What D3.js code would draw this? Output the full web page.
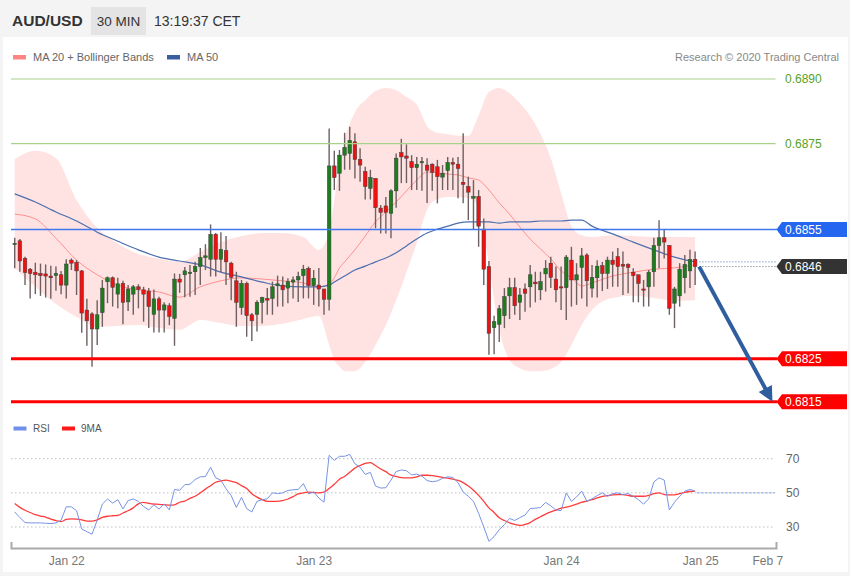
<!DOCTYPE html>
<html><head><meta charset="utf-8">
<script src="https://cdn.jsdelivr.net/npm/d3@7"></script>
<style>
html,body{margin:0;padding:0;background:#fff;}
svg{display:block;font-family:"Liberation Sans",Arial,sans-serif;}
</style></head><body>
<svg id="c" width="850" height="576"></svg>
<script>
// ---------- DATA ----------
const symbol = "AUD/USD", period = "30 MIN", clock = "13:19:37 CET";
const opens=[0.68516,0.68524,0.68483,0.68458,0.68451,0.68448,0.68447,0.68442,0.68443,0.68445,
0.68421,0.68479,0.68474,0.68454,0.68363,0.68354,0.68319,0.68357,0.68429,0.68438,
0.68400,0.68425,0.68382,0.68400,0.68417,0.68410,0.68407,0.68353,0.68389,0.68363,
0.68373,0.68344,0.68435,0.68445,0.68448,0.68452,0.68464,0.68485,0.68481,0.68539,
0.68481,0.68501,0.68472,0.68431,0.68369,0.68425,0.68352,0.68353,0.68381,0.68390,
0.68390,0.68420,0.68421,0.68414,0.68428,0.68433,0.68443,0.68460,0.68420,0.68421,
0.68412,0.68388,0.68698,0.68681,0.68723,0.68727,0.68754,0.68713,0.68685,0.68646,
0.68669,0.68600,0.68605,0.68588,0.68640,0.68729,0.68721,0.68708,0.68694,0.68707,
0.68700,0.68702,0.68696,0.68672,0.68687,0.68706,0.68702,0.68660,0.68650,0.68623,
0.68627,0.68551,0.68464,0.68322,0.68330,0.68350,0.68396,0.68415,0.68381,0.68412,
0.68417,0.68428,0.68410,0.68447,0.68472,0.68435,0.68417,0.68415,0.68479,0.68433,
0.68462,0.68491,0.68414,0.68438,0.68466,0.68448,0.68479,0.68487,0.68469,0.68469,
0.68451,0.68445,0.68412,0.68417,0.68452,0.68513,0.68531,0.68513,0.68379,0.68396,
0.68438,0.68454,0.68481];
const highs=[0.68531,0.68528,0.68487,0.68461,0.68473,0.68471,0.68469,0.68466,0.68464,0.68454,
0.68481,0.68483,0.68479,0.68456,0.68389,0.68358,0.68386,0.68433,0.68441,0.68441,
0.68438,0.68431,0.68421,0.68421,0.68423,0.68417,0.68414,0.68411,0.68394,0.68381,
0.68379,0.68448,0.68447,0.68463,0.68468,0.68475,0.68507,0.68516,0.68562,0.68542,
0.68544,0.68535,0.68475,0.68452,0.68433,0.68429,0.68356,0.68386,0.68394,0.68414,
0.68429,0.68443,0.68441,0.68437,0.68441,0.68452,0.68468,0.68464,0.68456,0.68461,
0.68412,0.68785,0.68733,0.68735,0.68775,0.68789,0.68774,0.68739,0.68696,0.68689,
0.68669,0.68607,0.68626,0.68644,0.68727,0.68761,0.68748,0.68723,0.68719,0.68719,
0.68716,0.68704,0.68712,0.68700,0.68719,0.68717,0.68719,0.68774,0.68673,0.68665,
0.68642,0.68576,0.68477,0.68350,0.68375,0.68414,0.68438,0.68438,0.68414,0.68425,
0.68468,0.68452,0.68452,0.68479,0.68487,0.68464,0.68464,0.68491,0.68510,0.68472,
0.68507,0.68495,0.68468,0.68479,0.68475,0.68487,0.68499,0.68507,0.68499,0.68472,
0.68460,0.68445,0.68433,0.68456,0.68531,0.68572,0.68551,0.68514,0.68417,0.68472,
0.68491,0.68503,0.68499];
const lows=[0.68460,0.68452,0.68421,0.68390,0.68400,0.68396,0.68392,0.68389,0.68408,0.68400,
0.68390,0.68456,0.68398,0.68310,0.68280,0.68231,0.68282,0.68324,0.68379,0.68371,
0.68367,0.68330,0.68361,0.68352,0.68367,0.68336,0.68321,0.68311,0.68311,0.68311,
0.68328,0.68280,0.68403,0.68393,0.68394,0.68398,0.68421,0.68456,0.68441,0.68441,
0.68451,0.68421,0.68386,0.68324,0.68352,0.68301,0.68291,0.68313,0.68332,0.68352,
0.68352,0.68371,0.68371,0.68379,0.68390,0.68382,0.68390,0.68390,0.68375,0.68371,
0.68352,0.68362,0.68642,0.68640,0.68689,0.68689,0.68669,0.68661,0.68620,0.68620,
0.68553,0.68541,0.68541,0.68530,0.68601,0.68658,0.68658,0.68642,0.68642,0.68640,
0.68612,0.68640,0.68611,0.68642,0.68642,0.68642,0.68623,0.68611,0.68572,0.68551,
0.68510,0.68421,0.68259,0.68260,0.68289,0.68321,0.68342,0.68352,0.68340,0.68359,
0.68369,0.68381,0.68386,0.68406,0.68414,0.68381,0.68363,0.68340,0.68371,0.68375,
0.68390,0.68371,0.68392,0.68392,0.68407,0.68412,0.68417,0.68417,0.68398,0.68402,
0.68381,0.68381,0.68371,0.68371,0.68417,0.68460,0.68483,0.68352,0.68321,0.68371,
0.68402,0.68414,0.68421];
const closes=[0.68518,0.68477,0.68450,0.68448,0.68445,0.68443,0.68442,0.68438,0.68448,0.68421,
0.68470,0.68472,0.68454,0.68356,0.68338,0.68319,0.68352,0.68414,0.68438,0.68416,
0.68424,0.68381,0.68412,0.68417,0.68411,0.68400,0.68371,0.68389,0.68363,0.68375,
0.68348,0.68435,0.68428,0.68454,0.68451,0.68464,0.68485,0.68489,0.68539,0.68481,
0.68504,0.68475,0.68439,0.68381,0.68425,0.68350,0.68338,0.68381,0.68392,0.68386,
0.68417,0.68424,0.68410,0.68429,0.68433,0.68441,0.68458,0.68420,0.68437,0.68412,
0.68388,0.68698,0.68671,0.68723,0.68741,0.68757,0.68713,0.68700,0.68650,0.68671,
0.68601,0.68590,0.68590,0.68640,0.68716,0.68719,0.68716,0.68694,0.68702,0.68708,
0.68688,0.68683,0.68673,0.68681,0.68706,0.68702,0.68692,0.68655,0.68637,0.68627,
0.68558,0.68458,0.68309,0.68336,0.68366,0.68394,0.68415,0.68373,0.68398,0.68402,
0.68445,0.68424,0.68429,0.68460,0.68439,0.68410,0.68416,0.68486,0.68433,0.68445,
0.68489,0.68431,0.68439,0.68465,0.68448,0.68479,0.68469,0.68464,0.68465,0.68462,
0.68443,0.68425,0.68410,0.68451,0.68513,0.68531,0.68521,0.68367,0.68412,0.68458,
0.68469,0.68481,0.68464];

// indicator readings at sampled bar indices
const sampleIdx=[0,4,8,12,16,20,24,28,32,36,40,44,48,52,56,59,61,62,63,64,66,68,70,72,74,76,78,80,82,84,86,88,90,92,94,96,98,100,102,104,106,108,110,112,116,120,124,128,132];
const bbUpper=[0.68714,0.68733,0.68716,0.68619,0.68554,0.68517,0.68493,0.68482,0.68475,0.68498,0.68521,0.68535,0.68542,0.68542,0.68533,0.68503,0.68544,0.68619,0.68700,0.68758,0.68823,0.68851,0.68872,0.68879,0.68874,0.68858,0.68840,0.68791,0.68775,0.68772,0.68768,0.68768,0.68816,0.68870,0.68879,0.68867,0.68844,0.68814,0.68772,0.68716,0.68635,0.68558,0.68537,0.68533,0.68537,0.68535,0.68533,0.68533,0.68533];
const bbLower=[0.68461,0.68417,0.68377,0.68347,0.68324,0.68326,0.68328,0.68321,0.68317,0.68340,0.68333,0.68326,0.68326,0.68331,0.68342,0.68349,0.68282,0.68247,0.68231,0.68221,0.68221,0.68242,0.68282,0.68328,0.68386,0.68451,0.68519,0.68596,0.68621,0.68626,0.68626,0.68623,0.68605,0.68468,0.68317,0.68247,0.68228,0.68221,0.68221,0.68226,0.68242,0.68282,0.68328,0.68363,0.68391,0.68396,0.68391,0.68384,0.68386];
const ma20=[0.68586,0.68575,0.68530,0.68479,0.68445,0.68421,0.68410,0.68405,0.68393,0.68417,0.68431,0.68438,0.68435,0.68431,0.68426,0.68417,0.68424,0.68438,0.68461,0.68475,0.68503,0.68535,0.68568,0.68591,0.68614,0.68640,0.68665,0.68684,0.68682,0.68679,0.68677,0.68670,0.68665,0.68642,0.68612,0.68586,0.68556,0.68528,0.68505,0.68482,0.68454,0.68438,0.68419,0.68426,0.68442,0.68451,0.68458,0.68461,0.68468];
const ma50=[0.68633,0.68614,0.68591,0.68570,0.68544,0.68523,0.68503,0.68486,0.68477,0.68468,0.68451,0.68440,0.68428,0.68419,0.68417,0.68417,0.68421,0.68428,0.68435,0.68442,0.68456,0.68465,0.68475,0.68484,0.68496,0.68512,0.68528,0.68542,0.68551,0.68558,0.68565,0.68568,0.68568,0.68568,0.68565,0.68568,0.68568,0.68568,0.68570,0.68570,0.68570,0.68572,0.68572,0.68558,0.68540,0.68521,0.68503,0.68486,0.68475];

const rsi=[38.8,35.5,32.6,32.4,32.4,32.4,32.2,32,32.4,34,
41.8,41.8,39.5,28.8,27.3,25.8,34,43.4,46.4,44,
46,40.6,45.5,46.4,45,42,40,43,40.5,43.5,
40,52,51.5,54.8,55,57.8,59.4,59.5,65,58.8,
57.4,52.4,48.4,41.4,47.4,40.8,38.8,45,46,46.5,
50,49.6,50,51.4,51.8,52,55.4,49.4,50.5,47,
44.5,72,69,71.4,71.4,72.5,67,65,60.8,62,
54,52.8,53,57.5,62.5,63.4,63,60.5,61,59.8,
57.2,56.5,57,58.5,59.4,59,56,50.5,48,45,
38,30,21.6,24.4,28.4,31.4,35,33.8,35.5,37,
40.8,41,41.4,44.4,42.4,40,39.6,50,45,47.6,
51,45,46.5,48.4,50,48,49.5,50,49,49.6,
48,46,43.4,46.5,56.4,58.8,57.5,40,44.5,48,
51,52,51];
const rsiMA=[43.8,41.5,39.8,38.5,37.2,36.4,35.8,34.6,33.8,33.2,
34.4,34.8,34.6,34.2,33.4,33.4,34.2,35.6,36.3,36.6,
36.8,38.2,39.5,41.2,43.5,44.4,43.8,43.4,43.3,43.1,
42.8,43,44.5,45.2,46.8,48,50,52.2,54.2,56.2,
57,57.4,56.8,56,54.2,52.5,49.5,47.5,46,45,
45,45,45.5,46.4,47.8,49.4,50,50.4,50.2,50,
50.5,52.5,55,58,59.6,62,64.5,66,67.2,67.7,
66,64,62.4,60.4,59.6,58.9,58.8,58.8,59.4,60.3,
60.3,60.1,59.6,59,58.6,58.1,57.3,56,54,51.5,
48.5,45,41.2,38.5,35.4,33.8,32.4,31.5,30.9,31.5,
32.6,34.5,36,37.5,38.8,39.9,41,41.6,42.4,43.4,
44.5,45.2,46,47,48,48.4,48.8,49,49,48.5,
48,48,48,48.5,49.5,50,49,48.8,48.8,49.6,
50.3,50.8,51];

const levelValues=[0.6890,0.6875,0.6855,0.6825,0.6815];
const levelKinds=["res","res","pivot","sup","sup"];
const arrowTargetIdx=147, arrowTarget=0.6815;
const tickIdx=[10,58,106,133,146];
const tickLabels=["Jan 22","Jan 23","Jan 24","Jan 25","Feb 7"];
const rsiTicks=[30,50,70];

// ---------- CHART ----------
const svg=d3.select("#c");
svg.append("rect").attr("width",850).attr("height",576).attr("fill","#f4f4f4");
svg.append("rect").attr("x",3).attr("y",37).attr("width",845).attr("height",535).attr("fill","#fff");

const x=d3.scaleLinear().domain([-0.72,147.69]).range([11,776]);
const y=d3.scaleLinear().domain([0.6815,0.6890]).range([401.7,79]);
const yR=d3.scaleLinear().domain([30,70]).range([527,458.7]);

// header
svg.append("text").attr("x",12).attr("y",26).attr("font-size",15.5).attr("font-weight","bold").attr("fill","#333").text(symbol);
svg.append("rect").attr("x",91).attr("y",7).attr("width",55).attr("height",28).attr("fill","#e4e4e4");
svg.append("text").attr("x",118.5).attr("y",26).attr("text-anchor","middle").attr("font-size",13.5).attr("fill","#333").text(period);
svg.append("text").attr("x",154).attr("y",26).attr("font-size",14).attr("fill","#333").text(clock);

// legend
svg.append("rect").attr("x",13).attr("y",55).attr("width",13).attr("height",4.5).attr("fill","#ff8585");
svg.append("text").attr("x",33).attr("y",61).attr("font-size",11).attr("fill","#666").text("MA 20 + Bollinger Bands");
svg.append("rect").attr("x",167).attr("y",55).attr("width",13).attr("height",4.5).attr("fill","#3a5f9f");
svg.append("text").attr("x",187).attr("y",61).attr("font-size",11).attr("fill","#666").text("MA 50");
svg.append("text").attr("x",839).attr("y",61).attr("text-anchor","end").attr("font-size",11).attr("fill","#888").text("Research \u00a9 2020 Trading Central");

// bands
const samples=sampleIdx.map((i,k)=>({i,up:bbUpper[k],lo:bbLower[k],m20:ma20[k],m50:ma50[k]}));
svg.append("path").datum(samples).attr("fill","#ffe3e3")
  .attr("d",d3.area().x(d=>x(d.i)).y0(d=>y(d.lo)).y1(d=>y(d.up)).curve(d3.curveMonotoneX));
svg.append("path").datum(samples).attr("fill","none").attr("stroke","#ff8f8f").attr("stroke-width",1)
  .attr("d",d3.line().x(d=>x(d.i)).y(d=>y(d.m20)).curve(d3.curveMonotoneX));
svg.append("path").datum(samples).attr("fill","none").attr("stroke","#4d6fae").attr("stroke-width",1.2)
  .attr("d",d3.line().x(d=>x(d.i)).y(d=>y(d.m50)).curve(d3.curveMonotoneX));

// candles
const bars=opens.map((o,i)=>({i,o,h:highs[i],l:lows[i],c:closes[i]}));
const cg=svg.append("g");
cg.selectAll("line").data(bars).join("line")
  .attr("x1",d=>x(d.i)).attr("x2",d=>x(d.i)).attr("y1",d=>y(d.h)).attr("y2",d=>y(d.l))
  .attr("stroke","#6e6060").attr("stroke-width",1.4);
cg.selectAll("rect").data(bars).join("rect")
  .attr("x",d=>x(d.i)-1.8).attr("width",3.6)
  .attr("y",d=>y(Math.max(d.o,d.c)))
  .attr("height",d=>Math.max(1.2,Math.abs(y(d.o)-y(d.c))))
  .attr("fill",d=>d.c>=d.o?"#1c7d1c":"#ee1111")
  .attr("stroke","#3d3d3d").attr("stroke-width",0.5);

// levels
const lastIdx=closes.length-1, lastClose=closes[lastIdx], lastMA50=ma50[ma50.length-1];
function tag(val,fill,txtCol){
  const cy=y(val);
  svg.append("path").attr("fill",fill)
    .attr("d",`M776.5,${cy}L782,${cy-7.5}H847V${cy+7.5}H782Z`);
  svg.append("text").attr("x",785).attr("y",cy).attr("dy","0.36em").attr("font-size",12).attr("fill",txtCol).text(val.toFixed(4));
}
levelValues.forEach((v,k)=>{
  const kind=levelKinds[k];
  const col=kind==="res"?"#a6d28c":kind==="pivot"?"#3f78ee":"#ff0000";
  svg.append("line").attr("x1",11).attr("x2",kind==="res"?775.5:777).attr("y1",y(v)).attr("y2",y(v))
    .attr("stroke",col).attr("stroke-width",kind==="sup"?3:(kind==="pivot"?1.5:1.2));
  if(kind==="res"){
    svg.append("text").attr("x",785).attr("y",y(v)).attr("dy","0.36em").attr("font-size",12).attr("fill","#58a323").text(v.toFixed(4));
  } else tag(v,kind==="pivot"?"#2466f0":"#ff0000","#fff");
});
// last price guides
svg.append("line").attr("x1",x(lastIdx)+4).attr("x2",776).attr("y1",y(lastMA50)).attr("y2",y(lastMA50))
  .attr("stroke","#8ea3cc").attr("stroke-dasharray","1.5,1.5");
svg.append("line").attr("x1",x(lastIdx)+4).attr("x2",776).attr("y1",y(lastClose)).attr("y2",y(lastClose))
  .attr("stroke","#999").attr("stroke-dasharray","1.5,1.5");
tag(lastClose,"#333","#fff");

// arrow
{
  const x0=x(lastIdx)+4, y0=y(lastClose), x1=x(arrowTargetIdx), y1=y(arrowTarget);
  const dx=x1-x0, dy=y1-y0, len=Math.hypot(dx,dy), ux=dx/len, uy=dy/len;
  const hl=15, hw=7.5, bx=x1-ux*hl, by=y1-uy*hl;
  svg.append("line").attr("x1",x0).attr("y1",y0).attr("x2",bx+ux*2).attr("y2",by+uy*2)
    .attr("stroke","#2f5e9e").attr("stroke-width",4);
  svg.append("path").attr("fill","#2f5e9e")
    .attr("d",`M${x1},${y1}L${bx-uy*hw},${by+ux*hw}L${bx+uy*hw},${by-ux*hw}Z`);
}

// ---------- RSI panel ----------
svg.append("rect").attr("x",13.5).attr("y",426.5).attr("width",13).attr("height",4).attr("fill","#6f8fe8");
svg.append("text").attr("x",33).attr("y",432).attr("font-size",10).attr("fill","#555").text("RSI");
svg.append("rect").attr("x",62).attr("y",426.5).attr("width",13).attr("height",4).attr("fill","#ff1a1a");
svg.append("text").attr("x",81).attr("y",432).attr("font-size",10).attr("fill","#555").text("9MA");

rsiTicks.forEach(v=>{
  svg.append("line").attr("x1",11).attr("x2",775).attr("y1",yR(v)).attr("y2",yR(v))
    .attr("stroke","#bdbdbd").attr("stroke-dasharray","1.5,2.5");
  svg.append("text").attr("x",786).attr("y",yR(v)).attr("dy","0.36em").attr("font-size",12).attr("fill","#666").text(v);
});
svg.append("path").datum(rsiMA).attr("fill","none").attr("stroke","#ff3b3b").attr("stroke-width",1.3)
  .attr("d",d3.line().x((d,i)=>x(i)).y(d=>yR(d)).curve(d3.curveMonotoneX));
svg.append("path").datum(rsi).attr("fill","none").attr("stroke","#7893e6").attr("stroke-width",1)
  .attr("d",d3.line().x((d,i)=>x(i)).y(d=>yR(d)));
svg.append("line").attr("x1",x(lastIdx)+2).attr("x2",776).attr("y1",yR(50)).attr("y2",yR(50))
  .attr("stroke","#7893e6").attr("stroke-dasharray","2,2");

const ax=svg.append("g").attr("transform","translate(0,548)")
  .call(d3.axisBottom(x).tickValues(tickIdx).tickFormat((d,i)=>tickLabels[i]).tickSizeInner(0).tickSizeOuter(-6).tickPadding(8));
ax.select(".domain").attr("stroke","#aaa").attr("stroke-width",2);
ax.selectAll("text").attr("font-size",12).attr("fill","#777").attr("font-family","Liberation Sans, Arial, sans-serif");
</script>
</body></html>
